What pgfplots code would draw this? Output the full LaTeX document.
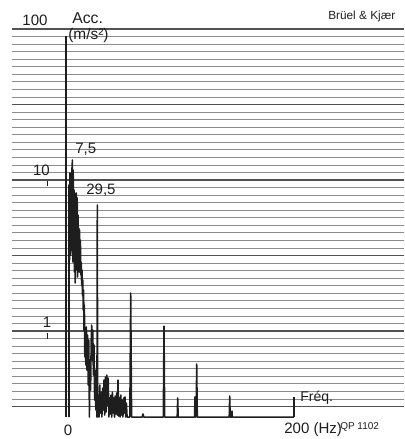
\documentclass[border=0pt]{standalone}
\usepackage{fontspec}
\setmainfont{Liberation Sans}
\usepackage{pgfplots}
\pgfplotsset{compat=1.18}
\definecolor{ink}{HTML}{1E1E1E}

% level recorder trace, acceleration in dB re 1 m/s^2 (40 dB = 100, 20 dB = 10, 0 dB = 1)
\begin{document}
\begin{tikzpicture}
\begin{axis}[
    scale only axis,
    width=9.8cm, height=10.975cm,
    xmin=-48.11, xmax=301.11,
    ymin=-14.30, ymax=43.84,
    axis line style={draw=none},
    xtick=\empty,
    ytick={-10,0,...,40},
    minor ytick={-10,-9,...,40},
    yticklabel=\empty,
    major tick length=0pt, minor tick length=0pt,
    ymajorgrids, yminorgrids,
    major grid style={line width=1pt, black!68},
    minor grid style={line width=0.55pt, black!45},
    clip=false,
]
\addplot[ink, line width=1.1pt, line join=round] coordinates {
    (2.67,-11.39)(2.67,19.34)
    (3.12,9.40)(3.56,20.93)(4.01,10.07)(4.45,20.66)(4.90,10.73)(5.35,21.59)
    (5.70,22.65)(6.06,9.14)(6.41,21.32)(6.77,9.67)(7.13,18.68)(7.48,7.81)
    (7.84,18.28)(8.20,6.36)(8.55,18.01)(8.91,8.08)(9.26,18.28)(9.62,8.74)
    (9.98,17.62)(10.33,7.15)(10.69,15.36)(11.05,8.34)(11.40,13.64)(11.76,7.81)
    (12.12,13.38)(12.47,8.34)(12.83,12.05)(13.18,7.42)(13.54,9.14)(13.90,6.09)
    (14.25,8.08)(14.61,4.77)(14.97,6.75)(15.32,2.78)(15.68,5.43)(16.04,0.13)
    (16.39,3.44)(16.75,-3.44)(17.10,0.13)
    (17.64,-4.50)(18.17,0.53)(18.70,-5.17)(19.24,-0.53)(19.78,-7.15)(20.31,-1.19)
    (20.85,-11.39)(21.38,-3.84)(21.92,-7.81)(22.45,-1.19)(22.90,0.79)(23.34,-3.84)
    (23.87,0.13)(24.41,-5.83)(24.94,-1.85)(25.48,-9.14)(26.01,-5.17)(26.55,-10.46)
    (27.08,-8.48)(27.53,-11.39)(27.88,16.69)(28.24,-11.39)
    (28.86,-8.48)(29.49,-11.39)(30.11,-7.15)(30.73,-10.86)(31.36,-8.08)(31.98,-11.39)
    (32.61,-7.55)(33.23,-10.46)(33.85,-6.49)(34.48,-11.13)(35.10,-6.09)(35.72,-10.73)
    (36.35,-5.83)(36.97,-9.80)(37.59,-6.23)(38.22,-11.39)(38.84,-8.87)(39.47,-10.99)
    (40.09,-8.48)(40.71,-11.39)(41.34,-8.08)(41.96,-10.86)(42.58,-8.87)(43.21,-11.39)
    (43.83,-8.61)(44.45,-10.99)(45.08,-8.21)(45.70,-11.13)(46.33,-6.49)(46.95,-11.26)
    (47.57,-8.87)(48.20,-11.39)(48.82,-8.48)(49.44,-11.13)(50.07,-9.14)(50.69,-11.39)
    (51.31,-8.87)(51.94,-10.86)(52.56,-8.74)(53.18,-11.39)(53.81,-9.54)(54.43,-11.39)
    (56.84,-11.39)(57.64,5.03)(58.44,-11.39)
    (67.88,-11.39)(68.60,-10.99)(69.31,-11.39)
    (86.68,-11.39)(87.30,0.66)(87.93,-11.39)
    (99.06,-11.39)(99.51,-8.87)(99.95,-11.39)
    (114.48,-11.39)(114.92,-8.74)(115.37,-11.39)
    (115.90,-11.39)(116.44,-4.37)(116.97,-11.39)
    (145.39,-11.39)(145.83,-8.61)(146.28,-11.39)
    (147.61,-11.39)(147.88,-10.60)(148.15,-11.39)
    (203.12,-11.39)
};
% recorder frame: zero line and end of sweep
\draw[ink, line width=1pt] (axis cs:0,39.07) -- (axis cs:0,-11.39);
\draw[ink, line width=0.9pt] (axis cs:203.12,-11.39) -- (axis cs:203.12,-8.74);
\draw[ink, line width=0.6pt] (axis cs:-16.93,19.9) -- (axis cs:-16.93,19.2);
\draw[ink, line width=0.6pt] (axis cs:-16.93,-0.3) -- (axis cs:-16.93,-1.0);

% labels
\begin{scope}[every node/.style={inner sep=0pt, text=ink}]
\node[font=\fontsize{10.7}{12}\selectfont] at (axis cs:-27.62,41.19) {100};
\node[font=\fontsize{10.7}{12}\selectfont] at (axis cs:-21.83,21.32) {10};
\node[font=\fontsize{10.7}{12}\selectfont] at (axis cs:-16.93,1.1) {1};
\node[font=\fontsize{11.2}{12}\selectfont, anchor=west] at (axis cs:5.35,41.5) {Acc.};
\node[font=\fontsize{11}{12}\selectfont, anchor=west] at (axis cs:1.78,39.2) {(m/s²)};
\node[font=\fontsize{8.4}{10}\selectfont, anchor=west] at (axis cs:233.4,41.72) {Brüel \& Kjær};
\node[font=\fontsize{10.7}{12}\selectfont, anchor=west] at (axis cs:8.02,24.11) {7,5};
\node[font=\fontsize{10.7}{12}\selectfont, anchor=west] at (axis cs:17.82,18.68) {29,5};
\node[font=\fontsize{10.7}{12}\selectfont] at (axis cs:1.78,-13.11) {0};
\node[font=\fontsize{10.7}{12}\selectfont, anchor=west] at (axis cs:194.21,-13.11) {200 (Hz)};
\node[font=\fontsize{7.1}{8}\selectfont, anchor=west] at (axis cs:244.1,-12.7) {QP 1102};
\node[font=\fontsize{10}{12}\selectfont, anchor=west] at (axis cs:208.46,-8.87) {Fréq.};
\end{scope}
\end{axis}
\pgfresetboundingbox
\path ([xshift=-0.3cm]current axis.south west) rectangle (current axis.north east);
\end{tikzpicture}
\end{document}
